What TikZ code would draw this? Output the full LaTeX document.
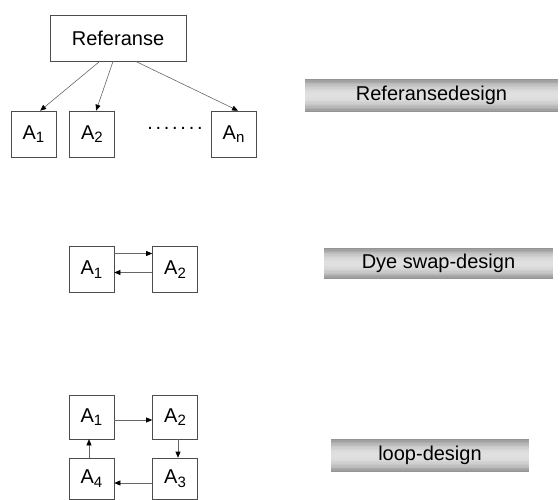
\documentclass[tikz,border=0pt]{standalone}
\usepackage{fontspec}
\setmainfont{Liberation Sans}
\usetikzlibrary{arrows.meta,calc}
\newcommand\labelfont{\fontsize{20}{24}\selectfont}
\newcommand\sub[1]{\raisebox{-0.35ex}{\fontsize{15}{18}\selectfont #1}}
\begin{document}
\begin{tikzpicture}[x=1pt, y=-1pt, line width=0.6pt,
  box/.style={draw=black!70, minimum width=45pt, minimum height=46pt, inner sep=0pt, font=\labelfont},
  banner/.style={minimum height=33pt, inner sep=0pt, font=\labelfont,
    path picture={
      \foreach \k in {0,...,23}{
        \pgfmathsetmacro\g{12+30*((\k-11.5)/11.5)^2}
        \fill[black!\g] ($(path picture bounding box.north west)!\k/24!(path picture bounding box.south west)$)
          rectangle ($(path picture bounding box.north east)!{(\k+1.2)/24}!(path picture bounding box.south east)$);
      }}},
  arr/.style={draw=black!60, -{Triangle[length=6pt, width=5pt, color=black, fill=black]}}]
  \useasboundingbox (0,0) rectangle (560,500);
  % reference design
  \node[box, minimum width=136pt] (ref) at (118,38) {Referanse};
  \node[box] (a1) at (33.5,134) {A\sub{1}};
  \node[box] (a2) at (92,134) {A\sub{2}};
  \node[box] (an) at (233.5,134) {A\sub{n}};
  \node[font=\labelfont, anchor=base] (dots) at (175,130) {.\kern2.7pt.\kern2.7pt.\kern2.7pt.\kern2.7pt.\kern2.7pt.\kern2.7pt.};
  \draw[arr] (ref.-128) -- (a1.74);
  \draw[arr] (ref.-102) -- (a2.80);
  \draw[arr] (ref.-53) -- (an.79);
  \node[banner, minimum width=253pt] (refdesign) at (431.5,95.5) {Referansedesign};
  % dye swap
  \node[box] (d1) at (91.5,269.5) {A\sub{1}};
  \node[box] (d2) at (175,269.5) {A\sub{2}};
  \draw[arr] ([yshift=16pt]d1.east) -- ([yshift=16pt]d2.west);
  \draw[arr] ([yshift=-3pt]d2.west) -- ([yshift=-3pt]d1.east);
  \node[banner, minimum width=229pt, minimum height=31pt] (dyeswap) at (438.5,263.5) {Dye swap-design};
  % loop
  \node[box, minimum height=44pt] (l1) at (91.5,417) {A\sub{1}};
  \node[box, minimum height=44pt] (l2) at (175,417) {A\sub{2}};
  \node[box, minimum height=41pt] (l3) at (175,478.5) {A\sub{3}};
  \node[box, minimum height=41pt] (l4) at (91.5,478.5) {A\sub{4}};
  \draw[arr] ([yshift=-3pt]l1.east) -- ([yshift=-3pt]l2.west);
  \draw[arr] ([xshift=3pt]l2.south) -- ([xshift=3pt]l3.north);
  \draw[arr] ([yshift=-4.5pt]l3.west) -- ([yshift=-4.5pt]l4.east);
  \draw[arr] ([xshift=-2.5pt]l4.north) -- ([xshift=-2.5pt]l1.south);
  \node[banner, minimum width=198pt] (loopdesign) at (430,455.5) {loop-design};
\end{tikzpicture}
\end{document}
